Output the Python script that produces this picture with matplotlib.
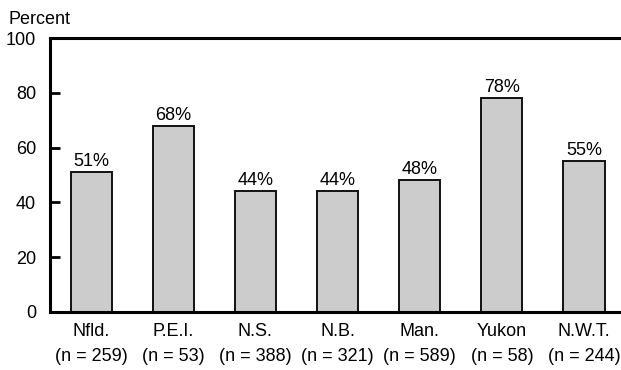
import numpy as np
import matplotlib.pyplot as plt

plt.rcParams['font.family'] = ['Liberation Sans', 'DejaVu Sans']

provinces = ['Nfld.', 'P.E.I.', 'N.S.', 'N.B.', 'Man.', 'Yukon', 'N.W.T.']
sizes = [259, 53, 388, 321, 589, 58, 244]
percents = [51, 68, 44, 44, 48, 78, 55]


def main():
    fig = plt.figure(figsize=(6.21, 3.70), dpi=100)
    ax = fig.add_axes([0.0805, 0.157, 0.9195, 0.74])

    x = np.arange(len(provinces))
    ax.bar(x, percents, width=0.5, color='#cccccc', edgecolor='#111111', linewidth=1.4)
    for xi, p in zip(x, percents):
        ax.text(xi, p + 0.8, f'{p}%', ha='center', va='bottom', fontsize=13)

    ax.set_xlim(-0.5, 6.45)
    ax.set_ylim(0, 100)
    ax.set_yticks(np.arange(0, 101, 20))
    ax.set_xticks(x)
    ax.set_xticklabels([f'{p}\n(n = {n})' for p, n in zip(provinces, sizes)],
                       fontsize=13, linespacing=1.6)
    ax.tick_params(axis='x', length=0, pad=8)
    ax.tick_params(axis='y', direction='in', length=7, width=2, labelsize=13, pad=10)

    for s in ['left', 'bottom', 'top']:
        ax.spines[s].set_linewidth(2.2)
    ax.spines['right'].set_visible(False)

    fig.text(0.013, 0.948, 'Percent', fontsize=13, va='center', ha='left')

    fig.savefig('out.png', dpi=100)


main()
